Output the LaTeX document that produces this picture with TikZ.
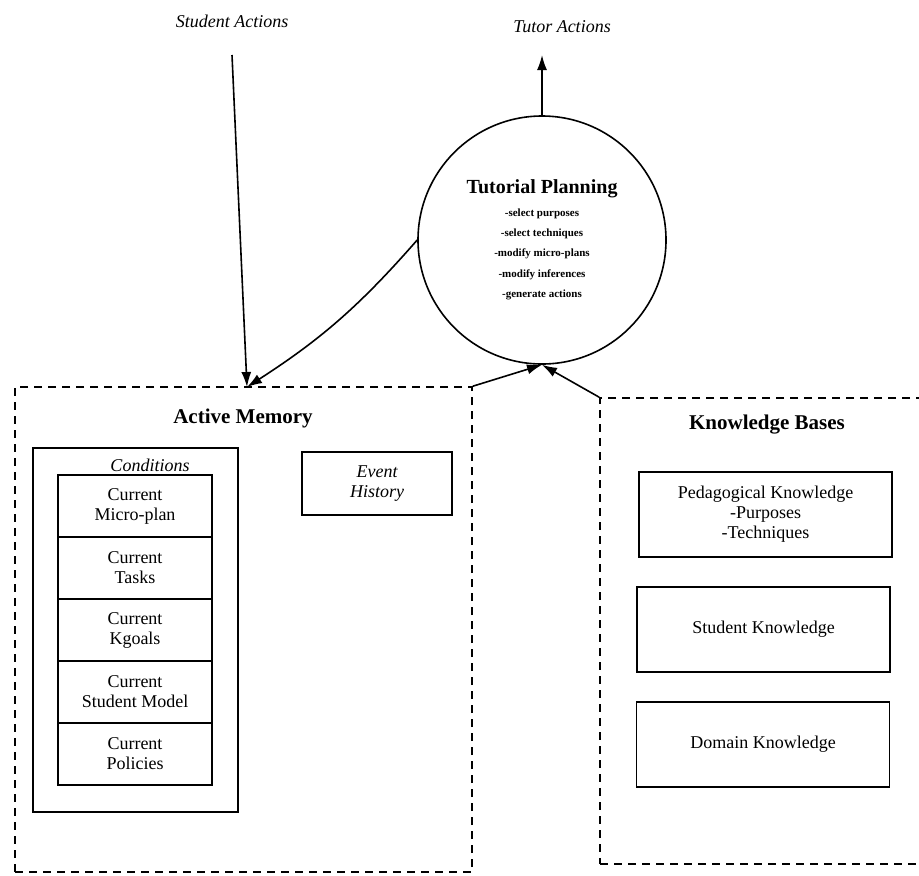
\documentclass[tikz,border=0pt]{standalone}
\usepackage{fontspec}
\setmainfont{Liberation Serif}
\usetikzlibrary{positioning,arrows.meta}

\begin{document}
\begin{tikzpicture}[x=0.5pt,y=0.5pt,yscale=-1,xscale=1,line width=0.8pt,
	>={Latex[length=7.5pt,width=5pt]},
	dashbox/.style={draw, dash pattern=on 4pt off 3pt, inner sep=0pt},
	rowbox/.style={draw, align=center, inner sep=0pt, minimum width=77pt, minimum height=31pt, font=\fontsize{9}{10}\selectfont},
	kbbox/.style={draw, align=center, inner sep=0pt, minimum width=126.5pt, minimum height=42.5pt, font=\fontsize{9}{10}\selectfont},
	title/.style={font=\fontsize{10.5}{12}\selectfont\bfseries},
	caption/.style={font=\fontsize{9}{10}\selectfont\itshape}]
			\useasboundingbox (0,0) rectangle (919,875);
			
			%Shape: Circle [planner]
			\node (plan) [draw, circle, minimum size=124pt, inner sep=0pt, align=center, font=\fontsize{5.5}{10.2}\selectfont\bfseries] at (542,240) {{\fontsize{10}{12}\selectfont Tutorial Planning}\\[1pt] -select purposes\\ -select techniques\\ -modify micro-plans\\ -modify inferences\\ -generate actions};
			
			% Text Node
			\node (student) [caption] at (232,21) {Student Actions};
			% Text Node
			\node (tutor) [caption] at (562,27) {Tutor Actions};
			
			%Shape: Dashed Rectangle [active memory]
			\node (mem) [dashbox, minimum width=228.5pt, minimum height=242.5pt] at (243.5,629.5) {};
			%Shape: Dashed Rectangle [knowledge bases]
			\node (kb) [dashbox, minimum width=167.5pt, minimum height=233pt] at (767.5,631) {};
			
			\coordinate (sastart) at (232,55);
			\coordinate (memin) at (247,387);
			\coordinate (tutortip) at (542,55);
			
			%Straight Lines
			\draw [->] (plan.north) -- (tutortip);
			\draw [->] (sastart) -- (memin);
			\draw [->] (plan.west) to [bend right=8] (memin);
			\draw [->] (mem.north east) -- (plan.south);
			\draw [->] (kb.north west) -- (plan.south);
			
			% Text Node
			\node (memtitle) [title] at (243,418) {Active Memory};
			% Text Node
			\node (kbtitle) [title] at (767,425) {Knowledge Bases};
			
			%Shape: Rectangle [conditions]
			\node (cond) [draw, minimum width=102.5pt, minimum height=182pt] at (135.5,630) {};
			\node (condtitle) [caption] at (150,465) {Conditions};
			\node (microplan) [rowbox] at (135,506) {Current\\Micro-plan};
			\node (tasks) [rowbox] at (135,568) {Current\\Tasks};
			\node (kgoals) [rowbox] at (135,630) {Current\\Kgoals};
			\node (model) [rowbox] at (135,692) {Current\\Student Model};
			\node (policies) [rowbox] at (135,754) {Current\\Policies};
			
			%Shape: Rectangle [event history]
			\node (event) [rowbox, minimum width=75pt, minimum height=31.5pt, font=\fontsize{9}{10}\selectfont\itshape] at (377,483.5) {Event\\History};
			
			%Shape: Rectangle [knowledge]
			\node (pedagogy) [kbbox] at (765.5,514.5) {Pedagogical Knowledge\\-Purposes\\-Techniques};
			\node (learner) [kbbox] at (763.5,629.5) {Student Knowledge};
			\node (domain) [kbbox] at (763,744.5) {Domain Knowledge};
		\end{tikzpicture}
\end{document}
